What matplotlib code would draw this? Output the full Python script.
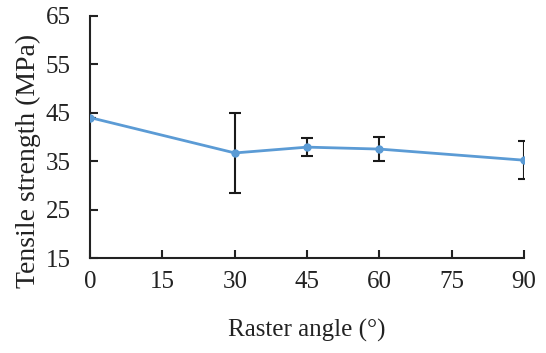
import matplotlib
matplotlib.use("Agg")
import matplotlib.pyplot as plt

angles = [0, 30, 45, 60, 90]
strength = [44.0, 36.7, 37.9, 37.5, 35.2]
err = [0.0, 8.3, 1.9, 2.5, 3.9]

plt.rcParams["font.family"] = ["Liberation Serif", "DejaVu Serif"]

fig = plt.figure(figsize=(5.46, 3.53), dpi=100)
ax = fig.add_axes([0.165, 0.269, 0.795, 0.686])

ax.errorbar(angles, strength, yerr=err, fmt="none", ecolor="#1a1a1a",
            elinewidth=1.5, capsize=4, capthick=1.5, zorder=2)
ax.plot(angles, strength, color="#5B9BD5", lw=2, marker="o", ms=5, zorder=3)

ax.set_xlim(0, 90)
ax.set_ylim(15, 65)
ax.set_xticks(range(0, 91, 15))
ax.set_yticks(range(15, 66, 10))
ax.spines["top"].set_visible(False)
ax.spines["right"].set_visible(False)
for s in ("left", "bottom"):
    ax.spines[s].set_linewidth(1.5)
    ax.spines[s].set_color("#222222")
ax.tick_params(direction="in", length=6, width=1.5, labelsize=18, colors="#222222")
ax.tick_params(axis="y", pad=14)
ax.tick_params(axis="x", pad=9)
ax.set_xlabel("Raster angle (°)", fontsize=18, color="#222222", va="center")
ax.set_ylabel("Tensile strength (MPa)", fontsize=20, color="#222222", va="center")
ax.xaxis.set_label_coords(0.5, -0.298)
ax.yaxis.set_label_coords(-0.143, 0.40)

fig.savefig("out.png", dpi=100)
